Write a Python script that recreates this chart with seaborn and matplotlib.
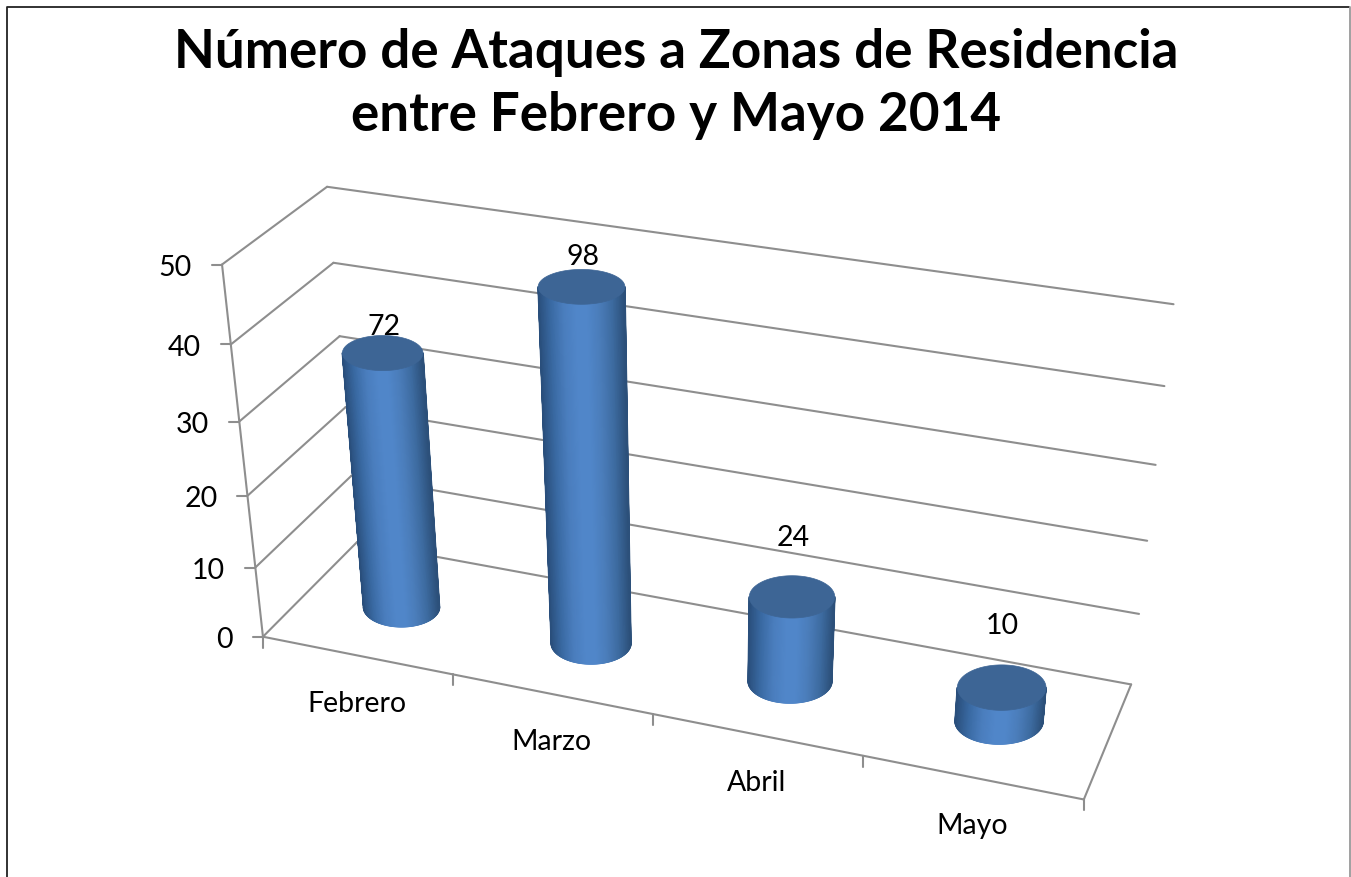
"""
Excel-style 3D cylinder chart: attacks on residential zones, Feb-May 2014.
The 3D box is mapped to the page with a camera matrix fitted to the box corners.
"""

import matplotlib.pyplot as plt
import numpy as np
import pandas as pd
import seaborn as sns
from matplotlib.patches import Polygon

TITLE = "Número de Ataques a Zonas de Residencia\nentre Febrero y Mayo 2014"
MONTHS = ["Febrero", "Marzo", "Abril", "Mayo"]
# the printed labels are double what the axis shows, the source chart is like that
BAR_LABELS = [72, 98, 24, 10]
BAR_HEIGHTS = [35.5, 47.9, 11.9, 4.7]
VALUE_TICKS = [0, 10, 20, 30, 40, 50]

# box corner (category, depth, value) -> where it sits on the page
CAMERA_WORLD = [
    (0, 0, 0), (0, 0, 10), (0, 0, 20), (0, 0, 30), (0, 0, 40), (0, 0, 50),
    (0, 1, 50), (0, 1, 40), (0, 1, 30),
    (4, 1, 50), (4, 1, 40), (4, 1, 30), (4, 1, 20), (4, 1, 10), (4, 1, 0),
    (4, 0, 0), (1, 0, 0), (2, 0, 0), (3, 0, 0),
]
CAMERA_PAGE = [
    (263, 637), (255, 568), (248, 497), (239, 422), (231, 345), (222, 266),
    (327, 188), (333, 264), (340, 337),
    (1173, 305), (1165, 387), (1156, 466), (1147, 542), (1139, 615), (1131, 685),
    (1084, 799), (453, 676), (653, 716), (862, 758),
]

RADIUS_X = 0.205
RADIUS_Y = 0.205
BAR_DEPTH = 0.485
LABEL_LIFT = [28, 32, 61, 63]
GRID_COLOR = "#8e8e8e"
TOP_COLOR = "#3d6595"


def fit_camera():
    rows, targets = [], []
    for (x, y, z), (u, v) in zip(CAMERA_WORLD, CAMERA_PAGE):
        rows.append([x, y, z, 1, 0, 0, 0, 0, -u * x, -u * y, -u * z])
        rows.append([0, 0, 0, 0, x, y, z, 1, -v * x, -v * y, -v * z])
        targets.extend([u, v])
    sol = np.linalg.lstsq(np.array(rows, float), np.array(targets, float), rcond=None)[0]
    return np.append(sol, 1.0).reshape(3, 4)


CAMERA = fit_camera()


def project(x, y, z):
    x, y, z = np.broadcast_arrays(x, y, z)
    pts = np.stack([x, y, z, np.ones_like(x)], axis=-1).astype(float)
    out = pts @ CAMERA.T
    return out[..., 0] / out[..., 2], out[..., 1] / out[..., 2]


def grid_table():
    segments = []
    for z in VALUE_TICKS:
        segments.append(((0, 0, z), (0, 1, z)))
        segments.append(((0, 1, z), (4, 1, z)))
    segments.append(((0, 0, 0), (0, 0, 50)))
    segments.append(((0, 0, 0), (4, 0, 0)))
    segments.append(((4, 0, 0), (4, 1, 0)))

    records = []
    for i, (a, b) in enumerate(segments):
        for end in (a, b):
            sx, sy = project(*end)
            records.append({"line": i, "sx": float(sx), "sy": float(sy)})
    # little tick marks hanging off the two axes
    n = len(segments)
    for z in VALUE_TICKS:
        sx, sy = project(0, 0, z)
        records.append({"line": n, "sx": float(sx) - 10, "sy": float(sy)})
        records.append({"line": n, "sx": float(sx), "sy": float(sy)})
        n += 1
    for c in range(len(MONTHS) + 1):
        sx, sy = project(c, 0, 0)
        records.append({"line": n, "sx": float(sx), "sy": float(sy)})
        records.append({"line": n, "sx": float(sx), "sy": float(sy) + 11})
        n += 1
    return pd.DataFrame(records)


def ring_axes(center, height):
    # Excel keeps the discs level on the page, so take only their size from the camera
    cx, cy = project(center, BAR_DEPTH, height)
    left, _ = project(center - RADIUS_X, BAR_DEPTH, height)
    right, _ = project(center + RADIUS_X, BAR_DEPTH, height)
    _, near = project(center, BAR_DEPTH - RADIUS_Y, height)
    _, far = project(center, BAR_DEPTH + RADIUS_Y, height)
    return float(cx), float(cy), float(right - left) / 2, float(near - far) / 2


def draw_cylinder(ax, center, height, cmap):
    # near half of the wall as a smooth mesh, then the lid on top
    phi = np.linspace(0, np.pi, 121)
    cx0, cy0, a0, b0 = ring_axes(center, 0)
    cx1, cy1, a1, b1 = ring_axes(center, height)
    bx, by = cx0 - a0 * np.cos(phi), cy0 + b0 * np.sin(phi)
    tx, ty = cx1 - a1 * np.cos(phi), cy1 + b1 * np.sin(phi)
    shade = (1 - np.cos(phi)) / 2

    ax.pcolormesh(np.vstack([bx, tx]), np.vstack([by, ty]), np.vstack([shade, shade]),
                  shading="gouraud", cmap=cmap, vmin=0, vmax=1, zorder=3)

    # the mesh edge comes out jagged, a hairline in the same colours cleans it up
    for k in range(len(phi) - 1):
        ax.plot(bx[k:k + 2], by[k:k + 2], color=cmap(shade[k]), lw=1.2, zorder=3.1,
                solid_capstyle="round")
    ax.plot([bx[0], tx[0]], [by[0], ty[0]], color=cmap(0.0), lw=1.2, zorder=3.1)
    ax.plot([bx[-1], tx[-1]], [by[-1], ty[-1]], color=cmap(1.0), lw=1.2, zorder=3.1)

    ring = np.linspace(0, 2 * np.pi, 181)
    lid = np.column_stack([cx1 + a1 * np.cos(ring), cy1 + b1 * np.sin(ring)])
    ax.add_patch(Polygon(lid, closed=True, facecolor=TOP_COLOR, edgecolor=TOP_COLOR,
                         linewidth=0.5, zorder=4))


def main():
    sns.set_theme(style="white")
    plt.rcParams["font.family"] = ["Lato", "DejaVu Sans"]

    fig = plt.figure(figsize=(13.51, 8.78), dpi=100, facecolor="white")
    ax = fig.add_axes([0, 0, 1, 1])

    sns.lineplot(data=grid_table(), x="sx", y="sy", units="line", estimator=None, sort=False,
                 color=GRID_COLOR, linewidth=1.5, legend=False, ax=ax, zorder=1)

    wall_cmap = sns.blend_palette(["#2a4f7c", "#3a6aa3", "#4a7dbd", "#5086c9", "#5086c9",
                                   "#4a7cb9", "#3d6ba0", "#2c507a"], as_cmap=True)
    for i, height in enumerate(BAR_HEIGHTS):
        draw_cylinder(ax, i + 0.5, height, wall_cmap)

    ax.set_xlim(0, 1351)
    ax.set_ylim(878, 0)
    ax.set_axis_off()

    # frame of the pasted chart, the bottom edge is cropped off
    ax.plot([7, 7, 1349], [878, 8, 8], color="#222222", lw=1.3, zorder=5)
    ax.plot([1349.5, 1349.5], [8, 878], color="#999999", lw=1.3, zorder=5)

    title_lines = TITLE.split("\n")
    ax.text(676, 68, title_lines[0], ha="center", va="baseline",
            fontsize=38.2, fontweight="bold", color="black")
    ax.text(676, 131, title_lines[1], ha="center", va="baseline",
            fontsize=38.2, fontweight="bold", color="black")

    for z in VALUE_TICKS:
        sx, sy = project(0, 0, z)
        ax.text(float(sx) - 30, float(sy), str(z), ha="right", va="center_baseline",
                fontsize=20.5, color="black")
    for i, month in enumerate(MONTHS):
        sx, sy = project(i + 0.5, 0, 0)
        ax.text(float(sx), float(sy) + 45, month, ha="center", va="center_baseline",
                fontsize=20.5, color="black")
    for i, (label, height) in enumerate(zip(BAR_LABELS, BAR_HEIGHTS)):
        sx, sy = project(i + 0.5, 0.5, height)
        ax.text(float(sx), float(sy) - LABEL_LIFT[i], str(label), ha="center",
                va="center_baseline", fontsize=20.5, color="black", zorder=6)

    fig.savefig("out.png", dpi=100)
    plt.close(fig)


if __name__ == "__main__":
    main()
